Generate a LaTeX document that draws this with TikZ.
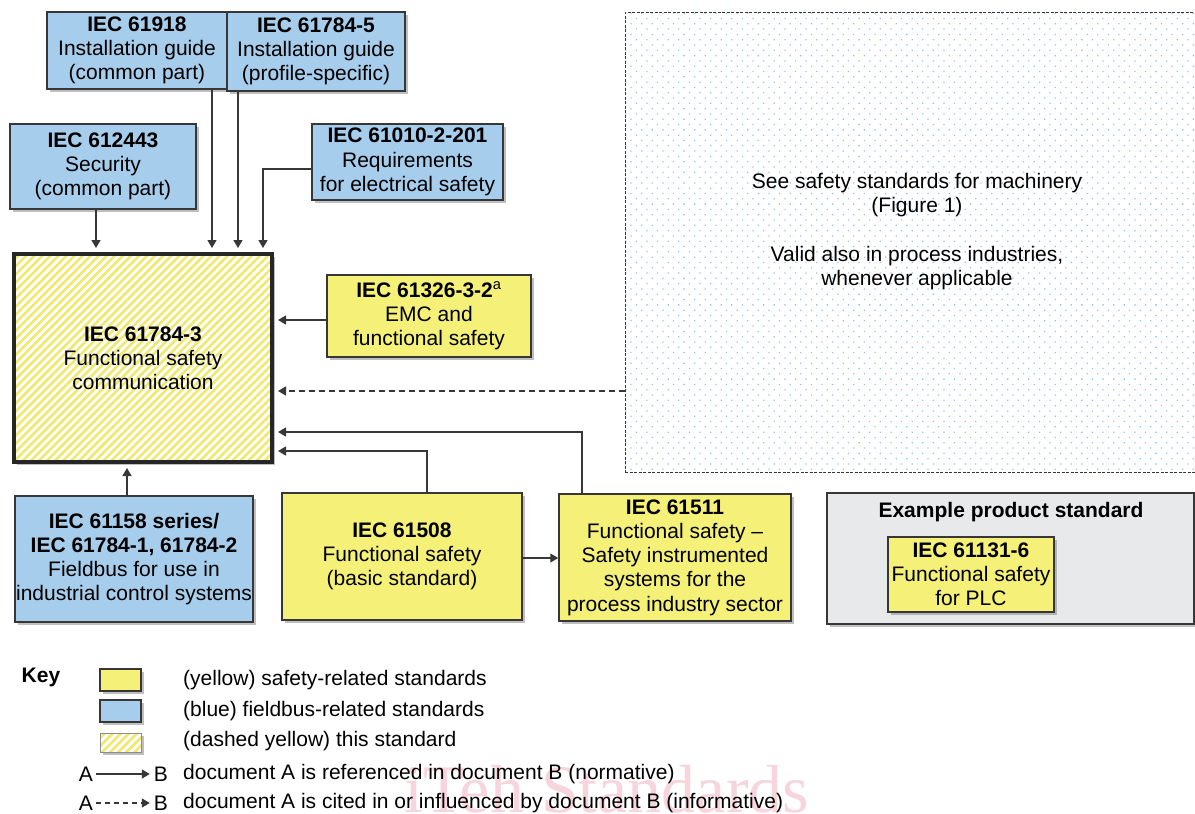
\documentclass[tikz,border=0pt]{standalone}
\usepackage{fontspec}
\setmainfont{Liberation Sans}
\setsansfont{Liberation Sans}
\newfontfamily\wmfont{Liberation Serif}
\usetikzlibrary{arrows.meta,shadows,patterns.meta}
\definecolor{fbblue}{RGB}{166,205,235}
\definecolor{sfyellow}{RGB}{245,240,120}
\definecolor{hatchyellow}{RGB}{240,232,105}
\definecolor{lineg}{RGB}{55,55,55}
\definecolor{grayfill}{RGB}{232,233,235}
\definecolor{dotblue}{RGB}{150,195,235}
\definecolor{wmpink}{RGB}{248,212,220}
\begin{document}
\begin{tikzpicture}[x=1pt,y=-1pt,
  every node/.style={font=\fontsize{21}{24.2}\selectfont},
  stdbox/.style={draw=lineg, line width=1.5pt, inner sep=0pt, align=center,
    drop shadow={shadow xshift=3pt,shadow yshift=-3pt,opacity=0.5}},
  bluebox/.style={stdbox, fill=fbblue},
  yellowbox/.style={stdbox, fill=sfyellow},
  hatchbox/.style={stdbox, preaction={fill=white},
    pattern={Lines[angle=45,distance=5.7pt,line width=2.5pt]}, pattern color=hatchyellow},
  arr/.style={draw=lineg, line width=1.3pt, -{Triangle[length=8pt,width=9pt]}, shorten >=4pt},
  darr/.style={arr, dash pattern=on 6pt off 4pt},
  keytext/.style={anchor=west, inner sep=0pt},
  keyletter/.style={inner sep=3pt},
]
\useasboundingbox (0,0) rectangle (1195,814);
\clip (0,0) rectangle (1195,814);

% watermark
\node[anchor=base west, inner sep=0pt, text=wmpink, font=\wmfont\fontsize{68}{70}\selectfont] (wm) at (404,812) {iTeh Standards};

% dotted region
\node[draw=lineg, line width=1pt, dash pattern=on 3pt off 1.5pt, inner sep=0pt,
  minimum width=585, minimum height=460,
  pattern={Dots[angle=45,distance=7.5pt,radius=0.9pt]}, pattern color=dotblue] (fig1) at (917.5,242) {};
\node[align=center, inner sep=0pt] (fig1t) at (917,231.5)
  {See safety standards for machinery\\(Figure 1)\\[24pt]Valid also in process industries,\\whenever applicable};

% example product standard
\node[stdbox, fill=grayfill, minimum width=367, minimum height=131] (ex) at (1010.5,558.5) {};
\node[inner sep=0pt] (ext) at (1011,512) {\textbf{Example product standard}};
\node[yellowbox, minimum width=166, minimum height=75] (plc) at (971,574.5)
  {\textbf{IEC 61131-6}\\Functional safety\\for PLC};

% blue boxes
\node[bluebox, minimum width=180, minimum height=77] (g918) at (137,50.5)
  {\textbf{IEC 61918}\\Installation guide\\(common part)};
\node[bluebox, minimum width=178, minimum height=79] (g7845) at (316,51.5)
  {\textbf{IEC 61784-5}\\Installation guide\\(profile-specific)};
\node[bluebox, minimum width=186, minimum height=85] (s443) at (103,166.5)
  {\textbf{IEC 612443}\\Security\\(common part)};
\node[bluebox, minimum width=191, minimum height=76] (e010) at (407.5,162)
  {\textbf{IEC 61010-2-201}\\Requirements\\for electrical safety};
\node[bluebox, minimum width=238, minimum height=126] (f158) at (134,559)
  {\textbf{IEC 61158 series/}\\\textbf{IEC 61784-1, 61784-2}\\Fieldbus for use in\\industrial control systems};

% main hatched box
\node[hatchbox, draw=black!85, line width=4pt, minimum width=258, minimum height=208] (main) at (143,358)
  {\textbf{IEC 61784-3}\\Functional safety\\communication};

% yellow boxes
\node[yellowbox, minimum width=204, minimum height=82] (emc) at (429,316)
  {\textbf{IEC 61326-3-2}\textsuperscript{a}\\EMC and\\functional safety};
\node[yellowbox, minimum width=240, minimum height=127] (f508) at (402,556.5)
  {\textbf{IEC 61508}\\Functional safety\\(basic standard)};
\node[yellowbox, minimum width=232, minimum height=127] (f511) at (675,557.5)
  {\textbf{IEC 61511}\\Functional safety --\\Safety instrumented\\systems for the\\process industry sector};

% connector helper coordinates
\coordinate (xa) at (96,0);
\coordinate (xb) at (212,0);
\coordinate (xc) at (238,0);
\coordinate (xd) at (263,0);
\coordinate (ye) at (0,169);
\coordinate (ya) at (0,320);
\coordinate (yb) at (0,391);
\coordinate (xe) at (582,0);
\coordinate (yc) at (0,432);
\coordinate (xf) at (427,0);
\coordinate (yd) at (0,451);
\coordinate (xg) at (127,0);
\coordinate (yg) at (0,558);

% connectors
\draw[arr] (s443.south -| xa) -- (main.north -| xa);
\draw[arr] (g918.south -| xb) -- (main.north -| xb);
\draw[arr] (g7845.south -| xc) -- (main.north -| xc);
\draw[arr] (e010.west |- ye) -- (xd |- ye) -- (main.north -| xd);
\draw[arr] (emc.west |- ya) -- (main.east |- ya);
\draw[darr] (fig1.west |- yb) -- (main.east |- yb);
\draw[arr] (f511.north -| xe) -- (xe |- yc) -- (main.east |- yc);
\draw[arr] (f508.north -| xf) -- (xf |- yd) -- (main.east |- yd);
\draw[arr] (f158.north -| xg) -- (main.south -| xg);
\draw[arr, shorten >=0pt] (f508.east |- yg) -- (f511.west |- yg);

% key
\node[inner sep=0pt] (key) at (41,677) {\textbf{Key}};
\node[yellowbox, line width=1.3pt, minimum width=41, minimum height=22] (ky) at (120.5,680) {};
\node[bluebox, line width=1.3pt, minimum width=41, minimum height=22] (kb) at (120.5,711) {};
\node[hatchbox, draw=black!45, line width=0.8pt, minimum width=41, minimum height=19] (kh) at (120.5,742.5) {};
\node[keytext] (kyt) at (183,680) {(yellow) safety-related standards};
\node[keytext] (kbt) at (183,711) {(blue) fieldbus-related standards};
\node[keytext] (kht) at (183,741) {(dashed yellow) this standard};
\node[keyletter] (ka1) at (86,774) {A};
\node[keyletter] (kb1) at (161,774) {B};
\draw[arr, shorten >=1pt] (ka1) -- (kb1);
\node[keytext] (kt1) at (183,774) {document A is referenced in document B (normative)};
\node[keyletter] (ka2) at (86,803) {A};
\node[keyletter] (kb2) at (161,803) {B};
\draw[darr, dash pattern=on 5pt off 4pt, shorten >=1pt] (ka2) -- (kb2);
\node[keytext] (kt2) at (183,803) {document A is cited in or influenced by document B (informative)};
\end{tikzpicture}
\end{document}
